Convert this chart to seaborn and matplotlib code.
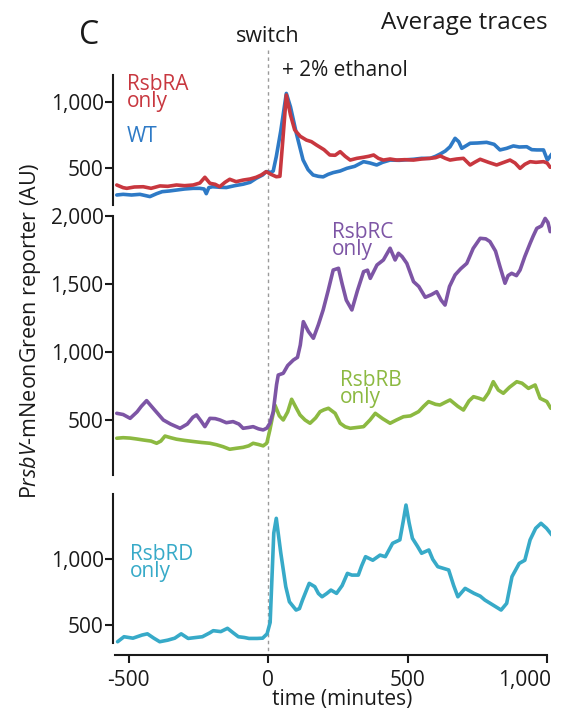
import numpy as np
import pandas as pd
import matplotlib.pyplot as plt
import seaborn as sns
from matplotlib.lines import Line2D
from matplotlib.ticker import FuncFormatter
from matplotlib.transforms import blended_transform_factory, ScaledTranslation

# RsbRA only (red), top panel
ra_t = [-543, -520, -507, -480, -448, -420, -388, -360, -329, -300, -269, -245, -227, -209,
        -190, -174, -155, -138, -115, -90, -65, -43, -25, -7, 10, 29, 42, 52, 65, 80, 95,
        115, 137, 155, 173, 200, 221, 240, 258, 276, 294, 318, 342, 360, 378, 395, 413, 437,
        461, 490, 521, 550, 581, 600, 617, 635, 652, 676, 700, 724, 740, 760, 790, 819, 845,
        867, 885, 903, 920, 939, 960, 987, 1000, 1011]
ra_v = [375, 355, 350, 360, 362, 350, 368, 365, 375, 370, 375, 390, 433, 388,
        380, 362, 395, 418, 400, 412, 420, 433, 450, 475, 455, 437, 440, 700, 1050, 900, 788,
        740, 712, 700, 675, 640, 600, 598, 625, 590, 562, 575, 583, 590, 600, 575, 562, 570,
        562, 565, 562, 570, 575, 580, 593, 575, 562, 570, 575, 525, 545, 568, 545, 525, 545,
        562, 540, 500, 530, 550, 545, 550, 540, 508]

# WT (blue), top panel
wt_t = [-543, -520, -490, -460, -424, -400, -380, -355, -329, -300, -269, -245, -230, -222,
        -213, -200, -174, -150, -120, -90, -65, -43, -20, -7, 10, 18, 29, 45, 65, 80, 101,
        125, 143, 161, 180, 197, 215, 233, 258, 282, 310, 342, 365, 389, 410, 437, 470, 500,
        521, 550, 581, 600, 617, 635, 652, 670, 683, 694, 710, 724, 750, 783, 810, 831, 855,
        879, 900, 927, 945, 963, 987, 1001, 1017]
wt_v = [300, 305, 300, 305, 288, 310, 325, 330, 337, 345, 350, 350, 345, 310,
        355, 362, 358, 356, 370, 381, 395, 425, 450, 475, 470, 480, 588, 780, 1062, 960, 762,
        563, 490, 450, 440, 436, 455, 468, 480, 500, 515, 550, 540, 525, 545, 562, 560, 565,
        568, 575, 575, 590, 608, 630, 662, 725, 700, 650, 670, 688, 690, 695, 680, 638, 650,
        668, 660, 662, 640, 638, 638, 562, 608]

# RsbRC only (purple), middle panel
rc_t = [-543, -520, -495, -470, -455, -436, -410, -376, -350, -316, -290, -270, -257, -240,
        -227, -209, -190, -173, -150, -126, -105, -90, -70, -54, -35, -18, -5, 6, 18, 30, 36,
        54, 70, 90, 105, 115, 126, 144, 162, 180, 197, 215, 233, 252, 265, 280, 300, 320, 342,
        356, 366, 390, 413, 437, 455, 467, 480, 497, 521, 540, 563, 585, 604, 620, 634, 650,
        670, 690, 712, 735, 760, 780, 795, 815, 831, 849, 860, 873, 890, 903, 920, 939, 950,
        963, 980, 993, 1003, 1011]
rc_v = [549, 540, 512, 560, 600, 642, 580, 500, 470, 439, 470, 520, 537, 490,
        451, 512, 510, 500, 480, 488, 470, 439, 445, 451, 435, 427, 440, 476, 560, 760, 830,
        843, 900, 940, 960, 1050, 1222, 1150, 1100, 1200, 1308, 1450, 1601, 1614, 1500, 1380, 1308, 1450, 1589,
        1600, 1540, 1638, 1675, 1761, 1675, 1724, 1700, 1650, 1516, 1480, 1401, 1420, 1442, 1380, 1344, 1480,
        1565, 1610, 1650, 1760, 1834, 1830, 1810, 1740, 1626, 1504, 1560, 1577, 1560, 1601, 1700, 1797, 1850,
        1907, 1925, 1980, 1950, 1883]

# RsbRB only (green), middle panel
rb_t = [-543, -520, -495, -470, -448, -420, -400, -385, -370, -350, -329, -300, -269, -240,
        -209, -185, -162, -138, -115, -90, -70, -54, -35, -18, -5, 6, 24, 40, 54, 70, 84,
        100, 114, 132, 150, 170, 186, 200, 216, 240, 258, 276, 294, 318, 342, 365, 384, 410,
        437, 460, 485, 510, 539, 557, 575, 600, 616, 635, 652, 680, 700, 720, 736, 755, 772,
        790, 807, 825, 843, 865, 891, 910, 933, 957, 975, 999, 1013]
rb_v = [366, 370, 367, 360, 353, 345, 329, 345, 382, 370, 359, 350, 342, 335,
        329, 318, 304, 285, 292, 299, 310, 329, 320, 310, 330, 427, 610, 530, 500, 560, 652,
        590, 537, 500, 476, 515, 561, 575, 586, 549, 476, 450, 439, 445, 451, 500, 549, 510,
        476, 500, 524, 530, 561, 600, 635, 615, 610, 630, 647, 600, 573, 640, 671, 660, 647,
        700, 781, 720, 696, 740, 781, 770, 732, 757, 659, 635, 586]

# RsbRD only (cyan), bottom panel
rd_t = [-540, -517, -485, -452, -433, -410, -389, -360, -335, -312, -287, -260, -236, -210,
        -197, -170, -146, -125, -107, -85, -69, -40, -20, -4, 7, 20, 29, 45, 63, 76, 100,
        112, 123, 147, 167, 180, 193, 210, 225, 245, 265, 284, 300, 323, 335, 349, 375, 401,
        420, 446, 472, 485, 494, 505, 517, 535, 550, 576, 590, 608, 630, 647, 665, 680, 706,
        738, 760, 777, 800, 816, 835, 855, 874, 900, 920, 939, 959, 978, 998, 1017]
rd_v = [373, 411, 400, 424, 433, 400, 373, 385, 400, 433, 398, 405, 411, 440,
        457, 450, 475, 440, 411, 405, 398, 398, 400, 433, 520, 1200, 1312, 1050, 792, 677, 614,
        625, 690, 817, 792, 740, 715, 740, 766, 741, 800, 893, 880, 880, 950, 1020, 993, 1032,
        1020, 1122, 1148, 1300, 1413, 1280, 1160, 1100, 1046, 1071, 1000, 944, 930, 919, 800, 715, 779,
        741, 720, 690, 660, 639, 614, 665, 868, 969, 993, 1148, 1236, 1274, 1236, 1185]

red, blue, purple, green, cyan = '#c8373f', '#2e7ac6', '#7d55a5', '#8cb941', '#37aac8'
ink = '#1a1a1a'

sns.set_theme(style='ticks')
plt.rcParams['font.family'] = ['Open Sans', 'DejaVu Sans']
plt.rcParams['mathtext.fontset'] = 'custom'
plt.rcParams['mathtext.rm'] = 'Open Sans'
plt.rcParams['mathtext.it'] = 'Open Sans:italic'

W, H = 566, 713
fig = plt.figure(figsize=(W / 100, H / 100), dpi=100)
fig.patch.set_facecolor('white')


def box(top, bottom):
    # pixel rows -> figure rect
    return [113.4 / W, 1 - bottom / H, 437.9 / W, (bottom - top) / H]


ax1 = fig.add_axes(box(75, 205))
ax2 = fig.add_axes(box(215.7, 475))
ax3 = fig.add_axes(box(494, 655))

lw = 2.6
sns.lineplot(x=ra_t, y=ra_v, ax=ax1, color=red, lw=lw, zorder=3)
sns.lineplot(x=wt_t, y=wt_v, ax=ax1, color=blue, lw=lw, zorder=2)
sns.lineplot(x=rc_t, y=rc_v, ax=ax2, color=purple, lw=lw, zorder=3)
sns.lineplot(x=rb_t, y=rb_v, ax=ax2, color=green, lw=lw, zorder=2)
sns.lineplot(x=rd_t, y=rd_v, ax=ax3, color=cyan, lw=lw, zorder=2)

ax1.set_ylim(225, 1200)
ax2.set_ylim(96, 2000)
ax3.set_ylim(272, 1497)
ax1.set_yticks([500, 1000])
ax2.set_yticks([500, 1000, 1500, 2000])
ax3.set_yticks([500, 1000])

fmt = FuncFormatter(lambda v, p: f'{int(v):,}')
for ax in (ax1, ax2, ax3):
    ax.set_xlim(-555, 1015)
    ax.patch.set_visible(False)
    ax.set_xlabel('')
    ax.set_ylabel('')
    for s in ('top', 'right'):
        ax.spines[s].set_visible(False)
    ax.spines['left'].set_linewidth(1.5)
    ax.spines['left'].set_color(ink)
    ax.yaxis.set_major_formatter(fmt)
    ax.tick_params(axis='y', direction='out', length=6, width=1.5, pad=1,
                   labelsize=15, color=ink, labelcolor=ink)

for ax in (ax1, ax2):
    ax.spines['bottom'].set_visible(False)
    ax.set_xticks([])

ax3.spines['left'].set_bounds(363, 1497)
ax3.spines['bottom'].set_bounds(-549, 1000)
ax3.spines['bottom'].set_linewidth(1.5)
ax3.spines['bottom'].set_color(ink)
ax3.set_xticks([-500, 0, 500, 1000])
ax3.xaxis.set_major_formatter(fmt)
ax3.tick_params(axis='x', direction='out', length=6, width=1.5, pad=5,
                labelsize=15, color=ink, labelcolor=ink)
# last label shifted left so it stays inside the figure
last = ax3.get_xticklabels()[-1]
last.set_horizontalalignment('right')
last.set_transform(last.get_transform() + ScaledTranslation(4 / 100, 0, fig.dpi_scale_trans))

# switch line
tr = blended_transform_factory(ax3.transData, fig.transFigure)
fig.add_artist(Line2D([0, 0], [1 - 50 / H, 1 - 655 / H], transform=tr, color='#9a9a9a',
                      lw=1, ls=(0, (2.5, 2.5)), zorder=-1))


def ftxt(x, y, s, **kw):
    fig.text(x / W, 1 - y / H, s, **kw)


ftxt(79, 36, 'C', fontsize=23, va='center', color=ink)
ftxt(268, 37, 'switch', fontsize=15.5, ha='center', va='center', color=ink)
ftxt(548, 23, 'Average traces', fontsize=17.5, ha='right', va='center', color=ink)
ftxt(282, 70, '+ 2% ethanol', fontsize=15, va='center', color=ink)

# y given for the baseline of the last line
lab = dict(fontsize=15, va='baseline', linespacing=0.72)
ftxt(127, 107, 'RsbRA\nonly', color=red, **lab)
ftxt(127, 142, 'WT', color=blue, **lab)
ftxt(332, 255, 'RsbRC\nonly', color=purple, **lab)
ftxt(340, 403, 'RsbRB\nonly', color=green, **lab)
ftxt(130, 577, 'RsbRD\nonly', color=cyan, **lab)

ftxt(31, 331, r'P$\it{rsbV}$-mNeonGreen reporter (AU)', fontsize=15.5, rotation=90,
     ha='center', va='center', color=ink)
ftxt(342, 700, 'time (minutes)', fontsize=15, ha='center', va='center', color=ink)

fig.savefig('out.png', dpi=100)
